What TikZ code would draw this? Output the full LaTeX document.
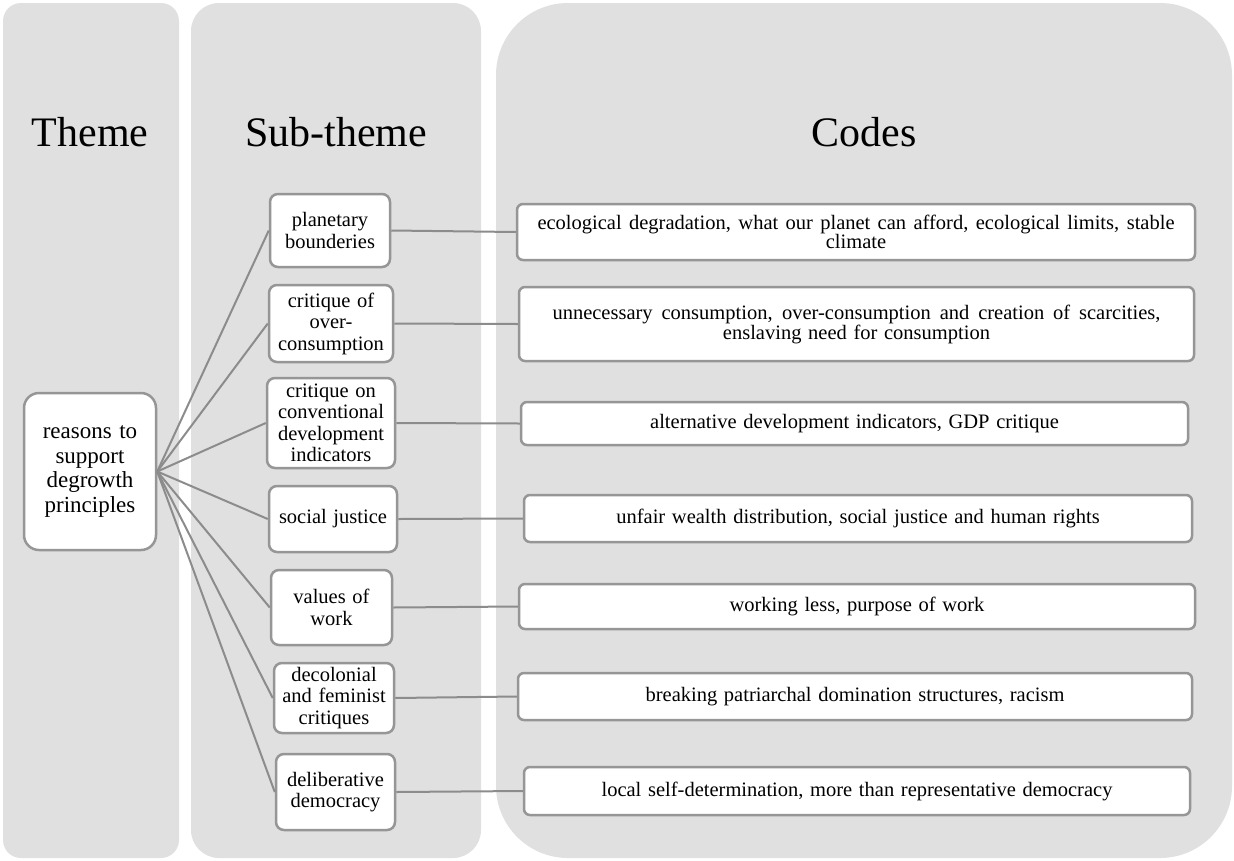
\documentclass[tikz,border=0pt]{standalone}
\usepackage{fontspec}
\setmainfont{Liberation Serif}[WordSpace=1.3]
\definecolor{panelgray}{RGB}{224,224,224}
\definecolor{boxline}{RGB}{150,150,150}
\definecolor{conn}{RGB}{140,140,140}
\begin{document}
\begin{tikzpicture}[x=1pt,y=-1pt,
  panel/.style={fill=panelgray},
  title/.style={anchor=base,font=\fontsize{42}{48}\selectfont},
  themebox/.style={draw=boxline,line width=2.5pt,fill=white,rounded corners=15pt,
    inner sep=0pt,align=center,font=\fontsize{23}{24.4}\selectfont},
  subbox/.style={draw=boxline,line width=2.5pt,fill=white,rounded corners=8pt,
    inner sep=0pt,align=center,font=\fontsize{20.5}{21.5}\selectfont},
  codebox/.style={draw=boxline,line width=2.5pt,fill=white,rounded corners=6pt,
    inner sep=0pt,align=center,font=\fontsize{20.5}{20}\selectfont},
  conline/.style={draw=conn,line width=2pt}]
\useasboundingbox (0,0) rectangle (1234,860);
% panels
\fill[panel,rounded corners=18pt] (3,3) rectangle (179,858);
\fill[panel,rounded corners=28pt] (191,3) rectangle (481,858);
\fill[panel,rounded corners=72pt] (496,3) rectangle (1232,858);
% titles
\node[title] (tTheme) at (90,146) {Theme};
\node[title] (tSub) at (336,146) {Sub-theme};
\node[title] (tCodes) at (864,146) {Codes};
% theme node
\node[themebox,minimum width=132pt,minimum height=157pt] (T) at (90,471.5)
  {reasons to\\support\\degrowth\\principles};
% sub-theme nodes
\node[subbox,minimum width=120pt,minimum height=73pt] (S1) at (330,230.5) {planetary\\bounderies};
\node[subbox,minimum width=124pt,minimum height=77pt] (S2) at (331,323.5) {critique of\\over-\\consumption};
\node[subbox,minimum width=128pt,minimum height=90pt] (S3) at (331,423) {critique on\\conventional\\development\\indicators};
\node[subbox,minimum width=128pt,minimum height=66pt] (S4) at (333,519) {social justice};
\node[subbox,minimum width=121pt,minimum height=75pt] (S5) at (331.5,607.5) {values of\\work};
\node[subbox,minimum width=120pt,minimum height=70pt] (S6) at (334,698) {decolonial\\and feminist\\critiques};
\node[subbox,minimum width=119pt,minimum height=76pt] (S7) at (335.5,792) {deliberative\\democracy};
% code nodes
\node[codebox,minimum width=678pt,minimum height=56pt,font=\fontsize{20.5}{16.5}\selectfont] (C1) at (856,232)
  {\makebox[637pt][s]{ecological degradation, what our planet can afford, ecological limits, stable}\\climate};
\node[codebox,minimum width=675pt,minimum height=74pt] (C2) at (856.5,324)
  {\makebox[608pt][s]{unnecessary consumption, over-consumption and creation of scarcities,}\\enslaving need for consumption};
\node[codebox,minimum width=667pt,minimum height=43pt] (C3) at (854.5,423.5) {alternative development indicators, GDP critique};
\node[codebox,minimum width=668pt,minimum height=47pt] (C4) at (858,518.5) {unfair wealth distribution, social justice and human rights};
\node[codebox,minimum width=676pt,minimum height=45pt] (C5) at (857,606.5) {working less, purpose of work};
\node[codebox,minimum width=674pt,minimum height=47pt] (C6) at (855,696.5) {breaking patriarchal domination structures, racism};
\node[codebox,minimum width=666pt,minimum height=48pt] (C7) at (857,791) {local self-determination, more than representative democracy};
% connectors
\foreach \i in {1,...,7}{
  \draw[conline] (T.east) -- (S\i.west);
  \draw[conline] (S\i.east) -- (C\i.west);
}
\end{tikzpicture}
\end{document}
